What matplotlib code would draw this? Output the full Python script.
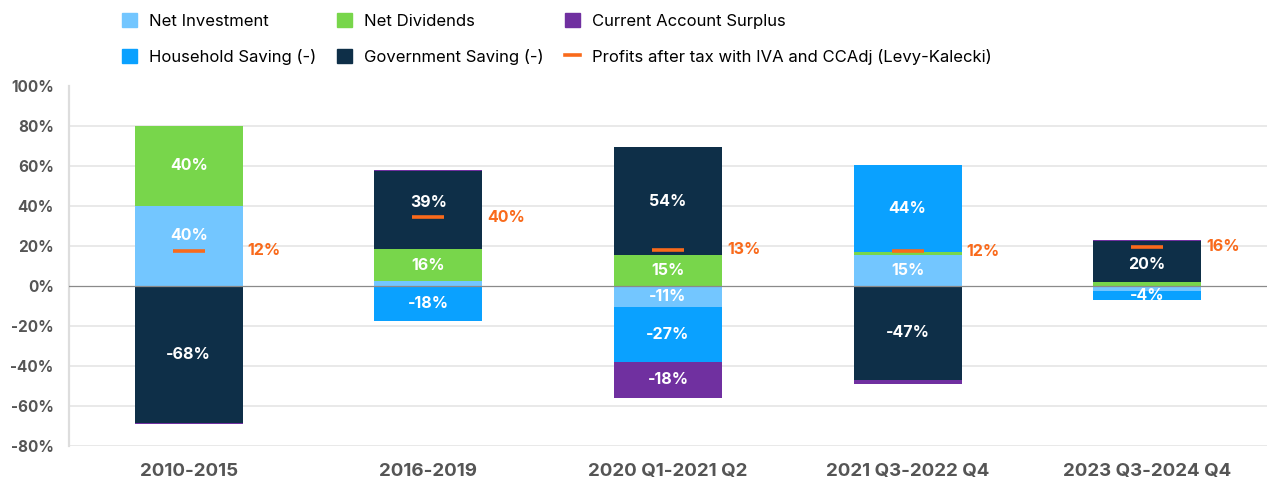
"""
Kalecki profits decomposition - stacked contributions by period.
"""

import matplotlib
matplotlib.use("Agg")
import matplotlib.pyplot as plt
import matplotlib.patches as mpatches
from matplotlib.lines import Line2D
import numpy as np

plt.rcParams["font.family"] = ["Inter", "DejaVu Sans"]

periods = ["2010-2015", "2016-2019", "2020 Q1-2021 Q2", "2021 Q3-2022 Q4", "2023 Q3-2024 Q4"]

# contributions, % of profits growth
net_investment   = [40.0, 2.2, -10.8, 15.3, -2.8]
net_dividends    = [40.0, 16.3, 15.2, 1.5, 2.0]
household_saving = [0.0, -17.7, -27.0, 43.7, -4.4]
government_saving = [-68.3, 38.8, 54.3, -47.0, 20.4]
current_account  = [-0.6, 0.7, -18.0, -2.2, 0.6]

profits_marker = [17.6, 34.3, 18.0, 17.2, 19.5]
profits_labels = [12, 40, 13, 12, 16]

SERIES = [
    ("Net Investment", net_investment, "#73C6FF"),
    ("Net Dividends", net_dividends, "#78D64B"),
    ("Household Saving (-)", household_saving, "#0AA1FF"),
    ("Government Saving (-)", government_saving, "#0E2F48"),
    ("Current Account Surplus", current_account, "#7030A0"),
]
ORANGE = "#F96A1B"
GREY = "#555555"

W, H = 1267, 482
fig = plt.figure(figsize=(W / 100, H / 100), dpi=100)
ax = fig.add_axes([69 / W, 36 / H, 1 - 69 / W, (446 - 85.7) / H])

x = np.arange(len(periods))
width = 0.45
pos_base = np.zeros(len(periods))
neg_base = np.zeros(len(periods))

for name, vals, color in SERIES:
    vals = np.array(vals)
    bottom = np.where(vals >= 0, pos_base, neg_base)
    ax.bar(x, vals, width, bottom=bottom, color=color, edgecolor="none", zorder=3)
    for i, v in enumerate(vals):
        if abs(v) < 4:
            continue
        lo, hi = sorted((bottom[i], bottom[i] + v))
        yc = (lo + hi) / 2
        m = profits_marker[i]
        # keep the label clear of the profits marker
        if lo < m < hi and abs(m - yc) < 8:
            yc = m + 7.5 if m + 10.5 < hi else m - 9
        ax.text(x[i], yc, f"{v:.0f}%", ha="center", va="center", color="white",
                fontsize=11.5, fontweight="bold", zorder=5)
    pos_base = pos_base + np.where(vals >= 0, vals, 0)
    neg_base = neg_base + np.where(vals < 0, vals, 0)

# profits marker + label
ax.hlines(profits_marker, x - 0.067, x + 0.067, color=ORANGE, lw=2.6, zorder=4)
for i, (m, lab) in enumerate(zip(profits_marker, profits_labels)):
    ax.text(x[i] + width / 2 + 0.021, m, f"{lab}%", ha="left", va="center",
            color=ORANGE, fontsize=11.5, fontweight="bold", zorder=5)

ax.set_xlim(-0.5, 4.5)
ax.set_ylim(-80, 100)
ax.set_yticks(np.arange(-80, 101, 20))
ax.set_yticklabels([f"{t}%" for t in range(-80, 101, 20)])
for t in range(-80, 81, 20):
    if t == 0:
        continue
    ax.axhline(t, color="#E3E3E3", lw=1.1, zorder=1)
ax.axhline(0, color="#8A8A8A", lw=0.9, zorder=4)

ax.set_xticks(x)
ax.set_xticklabels(periods)
ax.tick_params(axis="both", length=0, colors=GREY)
ax.tick_params(axis="y", pad=11, labelsize=11)
ax.tick_params(axis="x", pad=12.5, labelsize=13.5)
for lab in ax.get_xticklabels() + ax.get_yticklabels():
    lab.set_fontweight("bold")

for side in ("top", "right", "bottom"):
    ax.spines[side].set_visible(False)
ax.spines["left"].set_color("#DDDDDD")
ax.spines["left"].set_linewidth(1.6)

# Legend (column-major fill: NI, HS | ND, Gov | CA, Profits)
handles = [
    mpatches.Patch(color=SERIES[0][2], label=SERIES[0][0]),
    mpatches.Patch(color=SERIES[2][2], label=SERIES[2][0]),
    mpatches.Patch(color=SERIES[1][2], label=SERIES[1][0]),
    mpatches.Patch(color=SERIES[3][2], label=SERIES[3][0]),
    mpatches.Patch(color=SERIES[4][2], label=SERIES[4][0]),
    Line2D([], [], color=ORANGE, lw=2.6, label="Profits after tax with IVA and CCAdj (Levy-Kalecki)"),
]
fig.legend(handles=handles, ncol=3, loc="upper left", bbox_to_anchor=(122 / W, 1 - 13 / H),
           frameon=False, fontsize=12, borderpad=0, borderaxespad=0,
           handlelength=0.9, handleheight=0.9, handletextpad=0.72,
           columnspacing=1.25, labelspacing=1.2)

fig.savefig("out.png", dpi=100)
plt.close(fig)
